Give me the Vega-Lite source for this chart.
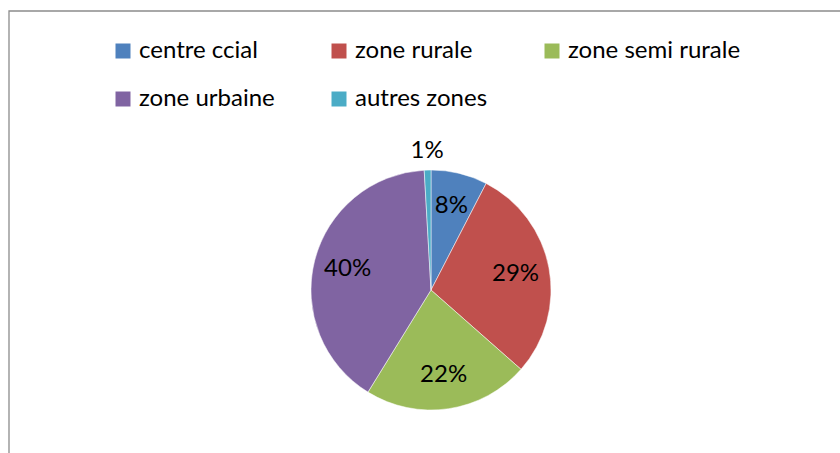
{
  "$schema": "https://vega.github.io/schema/vega-lite/v6.json",
  "width": 844,
  "height": 558,
  "padding": {"left": 8, "top": 10, "right": 0, "bottom": 0},
  "background": "white",
  "config": {
    "view": {"stroke": null},
    "font": "Lato"
  },
  "data": {
    "values": [
      {"zone": "centre ccial", "value": 0.076, "rank": 1},
      {"zone": "zone rurale", "value": 0.289, "rank": 2},
      {"zone": "zone semi rurale", "value": 0.223, "rank": 3},
      {"zone": "zone urbaine", "value": 0.403, "rank": 4},
      {"zone": "autres zones", "value": 0.009, "rank": 5}
    ]
  },
  "layer": [
    {
      "data": {"values": [{"frame": 1}]},
      "mark": {"type": "rect", "fill": null, "stroke": "#8c8c8c", "strokeWidth": 1.3},
      "encoding": {
        "x": {"value": 0},
        "x2": {"value": "width"},
        "y": {"value": 0},
        "y2": {"value": "height"}
      }
    },
    {
      "mark": {"type": "arc", "outerRadius": 120, "stroke": "white", "strokeWidth": 0.5},
      "encoding": {
        "theta": {"field": "value", "type": "quantitative", "stack": true},
        "order": {"field": "rank", "type": "quantitative"},
        "color": {
          "field": "zone",
          "type": "nominal",
          "scale": {
            "domain": ["centre ccial", "zone rurale", "zone semi rurale", "zone urbaine", "autres zones"],
            "range": ["#4F81BD", "#C0504D", "#9BBB59", "#8064A2", "#4BACC6"]
          },
          "legend": {
            "title": null,
            "orient": "none",
            "legendX": 102,
            "legendY": 28,
            "direction": "horizontal",
            "columns": 3,
            "columnPadding": 52,
            "rowPadding": 24,
            "symbolType": "square",
            "symbolSize": 225,
            "symbolStrokeWidth": 0,
            "symbolOpacity": 1,
            "labelFontSize": 24,
            "labelColor": "#000000",
            "labelOffset": 4,
            "labelFont": "Lato",
            "labelLimit": 400
          }
        }
      }
    },
    {
      "mark": {"type": "text", "radius": 86, "fontSize": 24, "baseline": "middle", "align": "center", "color": "#000000"},
      "encoding": {
        "theta": {"field": "value", "type": "quantitative", "stack": true},
        "order": {"field": "rank", "type": "quantitative"},
        "text": {"field": "value", "type": "quantitative", "format": ".0%"},
        "opacity": {"condition": {"test": "datum.value < 0.02", "value": 0}, "value": 1}
      }
    },
    {
      "mark": {"type": "text", "radius": 139, "fontSize": 24, "baseline": "middle", "align": "center", "color": "#000000"},
      "encoding": {
        "theta": {"field": "value", "type": "quantitative", "stack": true},
        "order": {"field": "rank", "type": "quantitative"},
        "text": {"field": "value", "type": "quantitative", "format": ".0%"},
        "opacity": {"condition": {"test": "datum.value < 0.02", "value": 1}, "value": 0}
      }
    }
  ]
}
